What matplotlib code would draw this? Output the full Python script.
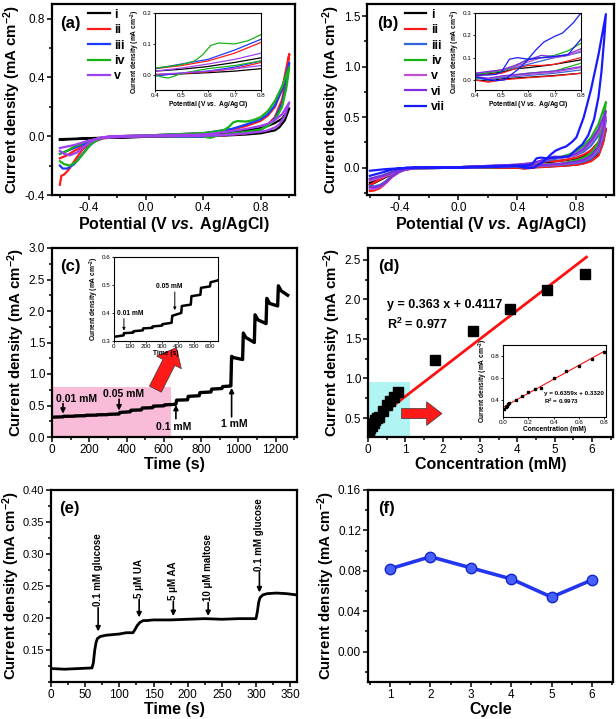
import numpy as np
import matplotlib.pyplot as plt
from matplotlib.patches import Rectangle
from matplotlib.ticker import MultipleLocator

plt.rcParams['font.family'] = ['Liberation Sans', 'DejaVu Sans']
plt.rcParams['mathtext.fontset'] = 'custom'
plt.rcParams['mathtext.rm'] = 'Liberation Sans:bold'
plt.rcParams['mathtext.it'] = 'Liberation Sans:italic:bold'
plt.rcParams['mathtext.bf'] = 'Liberation Sans:bold'
plt.rcParams['mathtext.default'] = 'regular'
plt.rcParams['axes.unicode_minus'] = False

# ---------------- (a) CV curves, forward (positive-going) and reverse scans
a_labels = ['i', 'ii', 'iii', 'iv', 'v']
a_colors = ['#000000', '#ff1a1a', '#1a3cff', '#17b317', '#a040f0']

a1_Ef = [-0.6, -0.5, -0.3, 0.0, 0.4, 0.5, 0.6, 0.7, 0.8, 0.85, 0.9, 0.95, 1.0]
a1_jf = [-0.025, -0.02, -0.012, -0.004, 0.012, 0.018, 0.027, 0.04, 0.055, 0.07, 0.09, 0.12, 0.19]
a1_Er = [1.0, 0.97, 0.93, 0.9, 0.85, 0.8, 0.7, 0.6, 0.5, 0.4, 0.0, -0.3, -0.6]
a1_jr = [0.19, 0.11, 0.06, 0.04, 0.03, 0.02, 0.012, 0.007, 0.003, 0.0, -0.004, -0.01, -0.02]

a2_Ef = [-0.6, -0.59, -0.57, -0.54, -0.5, -0.45, -0.4, -0.35, -0.3, -0.2, 0.0, 0.4, 0.5, 0.6, 0.7, 0.8, 0.85, 0.9, 0.95, 1.0]
a2_jf = [-0.33, -0.27, -0.26, -0.23, -0.17, -0.1, -0.05, -0.02, -0.008, 0.0, 0.005, 0.02, 0.03, 0.045, 0.07, 0.105, 0.14, 0.2, 0.32, 0.56]
a2_Er = [1.0, 0.98, 0.95, 0.9, 0.85, 0.8, 0.7, 0.6, 0.5, 0.4, 0.0, -0.2, -0.3, -0.4, -0.5, -0.55, -0.6]
a2_jr = [0.56, 0.4, 0.25, 0.13, 0.08, 0.04, 0.02, 0.01, 0.004, 0.0, -0.002, -0.005, -0.015, -0.05, -0.1, -0.13, -0.15]

a3_Ef = [-0.6, -0.58, -0.55, -0.5, -0.45, -0.4, -0.35, -0.3, -0.2, 0.0, 0.4, 0.5, 0.6, 0.7, 0.8, 0.85, 0.9, 0.95, 1.0]
a3_jf = [-0.2, -0.22, -0.22, -0.19, -0.13, -0.07, -0.03, -0.01, 0.0, 0.005, 0.02, 0.035, 0.05, 0.08, 0.115, 0.15, 0.21, 0.32, 0.5]
a3_Er = [1.0, 0.98, 0.95, 0.9, 0.85, 0.8, 0.7, 0.6, 0.5, 0.4, 0.0, -0.2, -0.3, -0.4, -0.5, -0.55, -0.6]
a3_jr = [0.5, 0.36, 0.22, 0.12, 0.075, 0.045, 0.025, 0.012, 0.006, -0.004, 0.0, -0.004, -0.012, -0.04, -0.08, -0.1, -0.12]

a4_Ef = [-0.6, -0.57, -0.53, -0.48, -0.43, -0.38, -0.33, -0.28, -0.2, 0.0, 0.4, 0.45, 0.5, 0.55, 0.58, 0.61, 0.64, 0.7, 0.75, 0.8, 0.85, 0.9, 0.95, 1.0]
a4_jf = [-0.17, -0.19, -0.2, -0.17, -0.11, -0.05, -0.02, -0.005, 0.0, 0.005, 0.022, 0.027, 0.033, 0.045, 0.065, 0.095, 0.103, 0.1, 0.11, 0.13, 0.17, 0.24, 0.34, 0.47]
a4_Er = [1.0, 0.98, 0.95, 0.9, 0.85, 0.8, 0.7, 0.6, 0.5, 0.47, 0.45, 0.43, 0.4, 0.0, -0.2, -0.3, -0.4, -0.5, -0.55, -0.6]
a4_jr = [0.47, 0.33, 0.2, 0.11, 0.07, 0.045, 0.03, 0.02, 0.005, -0.005, -0.01, -0.008, 0.0, 0.0, -0.003, -0.01, -0.03, -0.07, -0.1, -0.12]

a5_Ef = [-0.6, -0.57, -0.53, -0.48, -0.43, -0.38, -0.33, -0.25, 0.0, 0.4, 0.5, 0.6, 0.7, 0.8, 0.85, 0.9, 0.95, 1.0]
a5_jf = [-0.1, -0.12, -0.13, -0.11, -0.07, -0.035, -0.012, 0.0, 0.005, 0.012, 0.022, 0.035, 0.05, 0.07, 0.085, 0.11, 0.15, 0.23]
a5_Er = [1.0, 0.97, 0.93, 0.9, 0.85, 0.8, 0.7, 0.6, 0.5, 0.4, 0.0, -0.3, -0.4, -0.5, -0.6]
a5_jr = [0.23, 0.14, 0.08, 0.06, 0.04, 0.03, 0.02, 0.012, 0.006, 0.002, 0.0, -0.01, -0.03, -0.06, -0.08]

# ---------------- (b) CV curves
b_labels = ['i', 'ii', 'iii', 'iv', 'v', 'vi', 'vii']
b_colors = ['#000000', '#ff1a1a', '#3366dd', '#17b317', '#c050d0', '#7f2fe0', '#1a1aff']

b_Ef = [-0.6, -0.57, -0.53, -0.49, -0.45, -0.4, -0.35, -0.3, 0.0, 0.4, 0.5, 0.55, 0.6, 0.65, 0.7, 0.75, 0.8, 0.85, 0.9, 0.95, 1.0]
b_Er = [1.0, 0.98, 0.95, 0.9, 0.85, 0.8, 0.7, 0.6, 0.5, 0.45, 0.4, 0.0, -0.3, -0.4, -0.5, -0.6]
b1_jf = [-0.17, -0.15, -0.12, -0.09, -0.065, -0.035, -0.012, 0.0, 0.005, 0.02, 0.035, 0.05, 0.055, 0.062, 0.07, 0.08, 0.09, 0.12, 0.17, 0.25, 0.38]
b1_jr = [0.38, 0.25, 0.13, 0.07, 0.045, 0.03, 0.02, 0.012, 0.005, -0.005, 0.0, 0.0, -0.005, -0.02, -0.07, -0.15]
b2_jf = [-0.23, -0.225, -0.2, -0.15, -0.09, -0.04, -0.012, 0.0, 0.005, 0.02, 0.03, 0.05, 0.065, 0.065, 0.07, 0.085, 0.1, 0.13, 0.17, 0.25, 0.39]
b2_jr = [0.39, 0.24, 0.12, 0.065, 0.042, 0.03, 0.018, 0.01, 0.0, -0.01, 0.0, 0.0, -0.005, -0.03, -0.09, -0.17]
b3_jf = [-0.18, -0.185, -0.17, -0.13, -0.08, -0.035, -0.01, 0.0, 0.005, 0.025, 0.04, 0.055, 0.07, 0.085, 0.1, 0.11, 0.125, 0.16, 0.22, 0.32, 0.47]
b3_jr = [0.47, 0.3, 0.16, 0.09, 0.06, 0.045, 0.03, 0.02, 0.01, 0.0, 0.01, 0.0, -0.005, -0.025, -0.07, -0.11]
b4_jf = [-0.2, -0.2, -0.18, -0.14, -0.085, -0.04, -0.012, 0.0, 0.005, 0.025, 0.04, 0.06, 0.095, 0.1, 0.11, 0.13, 0.165, 0.22, 0.3, 0.43, 0.65]
b4_jr = [0.65, 0.42, 0.25, 0.14, 0.1, 0.075, 0.04, 0.03, 0.015, 0.005, 0.01, 0.0, -0.005, -0.03, -0.08, -0.12]
b5_jf = [-0.21, -0.21, -0.19, -0.15, -0.09, -0.04, -0.013, 0.0, 0.005, 0.03, 0.045, 0.06, 0.08, 0.1, 0.1, 0.11, 0.13, 0.18, 0.25, 0.35, 0.5]
b5_jr = [0.5, 0.33, 0.19, 0.11, 0.075, 0.055, 0.035, 0.025, 0.015, 0.005, 0.015, 0.0, -0.005, -0.03, -0.085, -0.13]
b6_jf = [-0.19, -0.195, -0.18, -0.14, -0.085, -0.04, -0.012, 0.0, 0.005, 0.03, 0.045, 0.065, 0.09, 0.11, 0.105, 0.115, 0.14, 0.19, 0.27, 0.38, 0.56]
b6_jr = [0.56, 0.37, 0.21, 0.12, 0.08, 0.06, 0.04, 0.03, 0.018, 0.008, 0.015, 0.0, -0.005, -0.025, -0.075, -0.11]
b7_Ef = [-0.6, -0.55, -0.5, -0.45, -0.4, -0.35, -0.3, 0.0, 0.4, 0.45, 0.48, 0.5, 0.53, 0.56, 0.6, 0.63, 0.66, 0.7, 0.73, 0.77, 0.8, 0.85, 0.9, 0.95, 1.0]
b7_jf = [-0.08, -0.06, -0.04, -0.02, -0.008, 0.0, 0.002, 0.005, 0.022, 0.022, 0.025, 0.037, 0.093, 0.1, 0.093, 0.135, 0.17, 0.195, 0.21, 0.255, 0.3, 0.5, 0.78, 1.12, 1.52]
b7_Er = [1.0, 0.99, 0.97, 0.95, 0.92, 0.88, 0.84, 0.8, 0.75, 0.7, 0.63, 0.6, 0.56, 0.51, 0.48, 0.44, 0.4, 0.0, -0.35, -0.45, -0.5, -0.6]
b7_jr = [1.52, 1.3, 0.95, 0.7, 0.48, 0.32, 0.23, 0.183, 0.112, 0.105, 0.097, 0.09, 0.045, 0.0, -0.003, 0.003, 0.015, 0.0, -0.002, -0.01, -0.015, -0.03]

# ---------------- (c) amperometric response
c_t = [0, 60, 62, 120, 122, 180, 182, 240, 242, 300, 302, 360, 364, 420, 424, 480, 484, 540, 544, 600, 604, 640,
       665, 669, 728, 731, 790, 794, 853, 857, 912, 916, 960, 964, 975, 1023, 1027, 1040, 1086, 1090, 1105,
       1149, 1153, 1168, 1211, 1215, 1230, 1265]
c_j = [0.315, 0.32, 0.328, 0.33, 0.335, 0.338, 0.345, 0.347, 0.352, 0.355, 0.36, 0.365, 0.39, 0.40, 0.425, 0.43,
       0.46, 0.465, 0.49, 0.495, 0.51, 0.515, 0.52, 0.585, 0.59, 0.645, 0.655, 0.705, 0.715, 0.76, 0.77, 0.80,
       0.81, 1.28, 1.26, 1.23, 1.65, 1.58, 1.50, 1.94, 1.86, 1.80, 2.20, 2.12, 2.08, 2.40, 2.32, 2.25]

# ---------------- (d) calibration
d_conc = [0.01, 0.02, 0.03, 0.04, 0.05, 0.1, 0.15, 0.2, 0.25, 0.3, 0.4, 0.5, 0.6, 0.7, 0.8, 1.8, 2.8, 3.8, 4.8, 5.8]
d_j = [0.32, 0.335, 0.345, 0.36, 0.37, 0.40, 0.435, 0.47, 0.495, 0.51, 0.595, 0.66, 0.71, 0.77, 0.83,
       1.24, 1.60, 1.88, 2.12, 2.32]
d_fit_x = [0.0, 5.85]
d_fit_y = [0.41, 2.535]
d_in_fit_x = [0.0, 0.8]
d_in_fit_y = [0.332, 0.841]

# ---------------- (e) interference test
e_t = [0, 20, 40, 60, 62, 64, 66, 68, 72, 80, 90, 100, 110, 120, 123, 126, 130, 135, 140, 150, 175, 200, 225,
       250, 275, 300, 302, 304, 306, 310, 316, 330, 345, 360]
e_j = [0.121, 0.120, 0.121, 0.122, 0.130, 0.150, 0.162, 0.168, 0.171, 0.173, 0.174, 0.175, 0.177, 0.177, 0.182,
       0.188, 0.193, 0.196, 0.196, 0.197, 0.197, 0.198, 0.199, 0.198, 0.199, 0.199, 0.210, 0.225, 0.232, 0.236,
       0.238, 0.239, 0.238, 0.236]
e_ann_t = [69, 129, 179, 230, 305]
e_ann_tail = [0.216, 0.229, 0.226, 0.224, 0.272]
e_ann_head = [0.179, 0.201, 0.203, 0.203, 0.240]
e_ann_text = ['0.1 mM glucose', '5 μM UA', '5 μM AA', '10 μM maltose', '0.1 mM glucose']

# ---------------- (f) repeatability
f_cycle = [1, 2, 3, 4, 5, 6]
f_j = [0.082, 0.094, 0.083, 0.072, 0.054, 0.071]

W, H = 616, 719
fig = plt.figure(figsize=(W / 100, H / 100), dpi=100)


def box(l, t, r, b):
    return [l / W, 1 - b / H, (r - l) / W, (b - t) / H]


def style(ax, inset=False):
    if inset:
        for s in ax.spines.values():
            s.set_linewidth(0.8)
        ax.tick_params(which='both', direction='out', labelsize=4.5, width=0.6, pad=0.8)
        ax.tick_params(which='major', length=1.6)
        ax.tick_params(which='minor', length=1.0)
    else:
        for s in ax.spines.values():
            s.set_linewidth(1.6)
        ax.tick_params(which='both', direction='out', labelsize=8.5, width=1.1, pad=1.5)
        ax.tick_params(which='major', length=3.5)
        ax.tick_params(which='minor', length=2)


YL = 'Current density (mA cm$^{-2}$)'
XL = 'Potential (V $\\mathit{vs.}$ Ag/AgCl)'
LAB = dict(fontsize=11.5, fontweight='bold')
YLAB = dict(fontsize=10.8, fontweight='bold')
ILAB = dict(fontsize=4.8, fontweight='bold')

# ======== (a)
ax = fig.add_axes(box(52, 4, 295, 195))
a_series = [(a1_Ef, a1_jf, a1_Er, a1_jr), (a2_Ef, a2_jf, a2_Er, a2_jr), (a3_Ef, a3_jf, a3_Er, a3_jr),
            (a4_Ef, a4_jf, a4_Er, a4_jr), (a5_Ef, a5_jf, a5_Er, a5_jr)]
for (ef, jf, er, jr), c, lb in zip(a_series, a_colors, a_labels):
    ax.plot(ef + er, jf + jr, color=c, lw=1.6, label=lb)
ax.set_xlim(-0.655, 1.04)
ax.set_ylim(-0.4, 0.9)
ax.xaxis.set_major_locator(MultipleLocator(0.4))
ax.xaxis.set_minor_locator(MultipleLocator(0.2))
ax.yaxis.set_major_locator(MultipleLocator(0.4))
ax.yaxis.set_minor_locator(MultipleLocator(0.2))
style(ax)
ax.set_xlabel(XL, labelpad=1, **LAB)
ax.set_ylabel(YL, labelpad=1, **YLAB)
ax.text(0.033, 0.90, '(a)', transform=ax.transAxes, fontsize=12, fontweight='bold', va='center')
ax.legend(loc='upper left', bbox_to_anchor=(0.148, 0.975), frameon=False, prop={'weight': 'bold', 'size': 9},
          handlelength=1.75, handletextpad=0.35, labelspacing=0.27, borderpad=0, borderaxespad=0)

ia = fig.add_axes(box(155, 13, 261, 90))
for (ef, jf, er, jr), c in zip(a_series, a_colors):
    ia.plot(ef + er, jf + jr, color=c, lw=0.9)
ia.set_xlim(0.4, 0.8)
ia.set_ylim(-0.049, 0.2)
ia.xaxis.set_major_locator(MultipleLocator(0.1))
ia.yaxis.set_major_locator(MultipleLocator(0.1))
style(ia, inset=True)
ia.set_xlabel(XL, labelpad=0.5, **ILAB)
ia.set_ylabel(YL, labelpad=0.5, **ILAB)

# ======== (b)
ax = fig.add_axes(box(367, 4, 614, 195))
b_series = [(b_Ef, b1_jf, b_Er, b1_jr), (b_Ef, b2_jf, b_Er, b2_jr), (b_Ef, b3_jf, b_Er, b3_jr),
            (b_Ef, b4_jf, b_Er, b4_jr), (b_Ef, b5_jf, b_Er, b5_jr), (b_Ef, b6_jf, b_Er, b6_jr),
            (b7_Ef, b7_jf, b7_Er, b7_jr)]
for (ef, jf, er, jr), c, lb in zip(b_series, b_colors, b_labels):
    ax.plot(ef + er, jf + jr, color=c, lw=1.6, label=lb)
ax.set_xlim(-0.62, 1.055)
ax.set_ylim(-0.27, 1.62)
ax.xaxis.set_major_locator(MultipleLocator(0.4))
ax.xaxis.set_minor_locator(MultipleLocator(0.2))
ax.yaxis.set_major_locator(MultipleLocator(0.5))
ax.yaxis.set_minor_locator(MultipleLocator(0.25))
style(ax)
ax.set_xlabel(XL, labelpad=1, **LAB)
ax.set_ylabel(YL, labelpad=1, **YLAB)
ax.text(0.04, 0.90, '(b)', transform=ax.transAxes, fontsize=12, fontweight='bold', va='center')
ax.legend(loc='upper left', bbox_to_anchor=(0.152, 0.975), frameon=False, prop={'weight': 'bold', 'size': 9},
          handlelength=1.75, handletextpad=0.35, labelspacing=0.27, borderpad=0, borderaxespad=0)

ib = fig.add_axes(box(475, 13, 581, 90))
for (ef, jf, er, jr), c in zip(b_series, b_colors):
    ib.plot(ef + er, jf + jr, color=c, lw=0.9)
ib.set_xlim(0.4, 0.8)
ib.set_ylim(-0.045, 0.3)
ib.xaxis.set_major_locator(MultipleLocator(0.1))
ib.yaxis.set_major_locator(MultipleLocator(0.1))
style(ib, inset=True)
ib.set_xlabel(XL, labelpad=0.5, **ILAB)
ib.set_ylabel(YL, labelpad=0.5, **ILAB)

# ======== (c)
ax = fig.add_axes(box(52, 248, 297, 437))
ax.add_patch(Rectangle((0, 0), 640, 0.8, color='#f8bcd9', lw=0, zorder=0))
ax.plot(c_t, c_j, color='k', lw=2.4, zorder=2)
ax.set_xlim(0, 1315)
ax.set_ylim(0, 3.0)
ax.xaxis.set_major_locator(MultipleLocator(200))
ax.xaxis.set_minor_locator(MultipleLocator(100))
ax.yaxis.set_major_locator(MultipleLocator(0.5))
ax.yaxis.set_minor_locator(MultipleLocator(0.25))
style(ax)
ax.set_xlabel('Time (s)', labelpad=1, **LAB)
ax.set_ylabel(YL, labelpad=1, **YLAB)
ax.text(0.033, 0.90, '(c)', transform=ax.transAxes, fontsize=12, fontweight='bold', va='center')
arr = dict(arrowstyle='-|>', color='k', lw=1.2, mutation_scale=7, shrinkA=0, shrinkB=0)
TX = dict(fontsize=7.5, fontweight='bold', ha='center', va='center')
ax.annotate('', xy=(59, 0.37), xytext=(59, 0.53), arrowprops=arr)
ax.text(134, 0.61, '0.01 mM', **TX)
ax.annotate('', xy=(360, 0.42), xytext=(360, 0.60), arrowprops=arr)
ax.text(385, 0.69, '0.05 mM', **TX)
ax.annotate('', xy=(665, 0.51), xytext=(665, 0.29), arrowprops=arr)
ax.text(654, 0.16, '0.1 mM', **TX)
ax.annotate('', xy=(964, 0.78), xytext=(964, 0.32), arrowprops=arr)
ax.text(977, 0.21, '1 mM', **TX)
ax.annotate('', xy=(668, 1.42), xytext=(555, 0.76),
            arrowprops=dict(arrowstyle='simple,head_width=1.0,head_length=0.6,tail_width=0.48',
                            fc='#ff1a1a', ec='#333333', lw=0.5, mutation_scale=20, shrinkA=0, shrinkB=0))

ic = fig.add_axes(box(114, 257, 218, 341))
ic.plot(c_t, c_j, color='k', lw=1.8)
ic.set_xlim(0, 650)
ic.set_ylim(0.3, 0.6)
ic.xaxis.set_major_locator(MultipleLocator(100))
ic.yaxis.set_major_locator(MultipleLocator(0.1))
style(ic, inset=True)
ic.set_xlabel('Time (s)', labelpad=0.5, **ILAB)
ic.set_ylabel(YL, labelpad=0.5, **ILAB)
iarr = dict(arrowstyle='-|>', color='k', lw=0.7, mutation_scale=4, shrinkA=0, shrinkB=0)
ITX = dict(fontsize=4.8, fontweight='bold', ha='center', va='center')
ic.annotate('', xy=(62, 0.337), xytext=(62, 0.38), arrowprops=iarr)
ic.text(102, 0.399, '0.01 mM', **ITX)
ic.annotate('', xy=(380, 0.41), xytext=(380, 0.475), arrowprops=iarr)
ic.text(348, 0.493, '0.05 mM', **ITX)

# ======== (d)
ax = fig.add_axes(box(368, 248, 613, 437))
ax.add_patch(Rectangle((0, 0.2), 1.12, 0.757, color='#b0f4f4', lw=0, zorder=0))
ax.plot(d_fit_x, d_fit_y, color='#ff1010', lw=2.0, zorder=2)
ax.plot(d_conc, d_j, 's', color='k', ms=7, zorder=3)
ax.set_xlim(0, 6.56)
ax.set_ylim(0.26, 2.65)
ax.xaxis.set_major_locator(MultipleLocator(1))
ax.xaxis.set_minor_locator(MultipleLocator(0.5))
ax.yaxis.set_major_locator(MultipleLocator(0.5))
ax.yaxis.set_minor_locator(MultipleLocator(0.25))
style(ax)
ax.set_xlabel('Concentration (mM)', labelpad=1, **LAB)
ax.set_ylabel(YL, labelpad=1, **YLAB)
ax.text(0.04, 0.90, '(d)', transform=ax.transAxes, fontsize=12, fontweight='bold', va='center')
ax.text(0.5, 1.93, 'y = 0.363 x + 0.4117', fontsize=9, fontweight='bold', va='center')
ax.text(0.5, 1.68, 'R$^{2}$ = 0.977', fontsize=9, fontweight='bold', va='center')
ax.annotate('', xy=(1.98, 0.556), xytext=(0.9, 0.556),
            arrowprops=dict(arrowstyle='simple,head_width=0.85,head_length=0.55,tail_width=0.36',
                            fc='#ff1a1a', ec='#333333', lw=0.5, mutation_scale=20, shrinkA=0, shrinkB=0))

idd = fig.add_axes(box(503, 345, 606, 417))
idd.plot(d_in_fit_x, d_in_fit_y, color='#ff1010', lw=0.8)
idd.plot(d_conc[:15], d_j[:15], 's', color='k', ms=2)
idd.set_xlim(0, 0.812)
idd.set_ylim(0.244, 0.897)
idd.xaxis.set_major_locator(MultipleLocator(0.2))
idd.yaxis.set_major_locator(MultipleLocator(0.2))
style(idd, inset=True)
idd.set_xlabel('Concentration (mM)', labelpad=0.5, **ILAB)
idd.set_ylabel(YL, labelpad=0.5, **ILAB)
idd.text(0.325, 0.46, 'y = 0.6359x + 0.3320', fontsize=4.5, fontweight='bold', va='center')
idd.text(0.325, 0.385, 'R$^{2}$ = 0.9973', fontsize=4.5, fontweight='bold', va='center')

# ======== (e)
ax = fig.add_axes(box(51, 490, 297, 682))
ax.plot(e_t, e_j, color='k', lw=2.0)
ax.set_xlim(0, 360)
ax.set_ylim(0.10, 0.40)
ax.xaxis.set_major_locator(MultipleLocator(50))
ax.xaxis.set_minor_locator(MultipleLocator(25))
ax.set_yticks([0.15, 0.20, 0.25, 0.30, 0.35, 0.40])
ax.yaxis.set_minor_locator(MultipleLocator(0.025))
ax.yaxis.set_major_formatter(plt.FormatStrFormatter('%.2f'))
style(ax)
ax.tick_params(axis='y', labelsize=8)
ax.set_xlabel('Time (s)', labelpad=1, **LAB)
ax.set_ylabel(YL, labelpad=0.5, **YLAB)
ax.text(0.035, 0.905, '(e)', transform=ax.transAxes, fontsize=12, fontweight='bold', va='center')
for t, tail, head, s in zip(e_ann_t, e_ann_tail, e_ann_head, e_ann_text):
    ax.annotate('', xy=(t, head), xytext=(t, tail), arrowprops=arr)
    ax.text(t, tail + 0.002, s, rotation=90, fontsize=7, fontweight='bold', ha='center', va='bottom')

# ======== (f)
ax = fig.add_axes(box(368, 490, 613, 682))
ax.plot(f_cycle, f_j, '-o', color='#2236f0', lw=2.6, ms=7.5, mfc='#4560ff', mec='#1526c8', mew=1.0)
ax.set_xlim(0.455, 6.52)
ax.set_ylim(-0.03, 0.16)
ax.xaxis.set_major_locator(MultipleLocator(1))
ax.xaxis.set_minor_locator(MultipleLocator(0.5))
ax.yaxis.set_major_locator(MultipleLocator(0.04))
ax.yaxis.set_minor_locator(MultipleLocator(0.02))
ax.yaxis.set_major_formatter(plt.FormatStrFormatter('%.2f'))
style(ax)
ax.set_xlabel('Cycle', labelpad=1, **LAB)
ax.set_ylabel(YL, labelpad=1, **YLAB)
ax.text(0.04, 0.905, '(f)', transform=ax.transAxes, fontsize=12, fontweight='bold', va='center')

fig.savefig('out.png', dpi=100)
